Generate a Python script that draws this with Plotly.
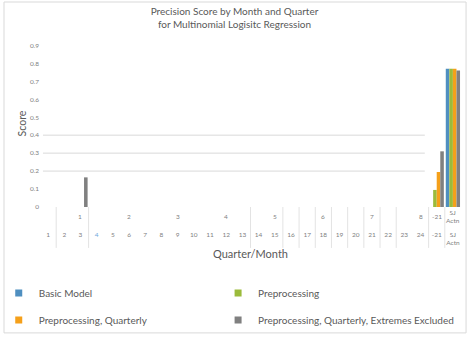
import plotly.graph_objects as go

# ---- data ----
month_labels = [str(i) for i in range(1, 25)] + ["-21", "SJ<br>Actn"]
quarter_labels = ["1", "2", "3", "4", "5", "6", "7", "8", "-21", "SJ<br>Actn"]
quarter_label_pos = [2, 5, 8, 11, 14, 17, 20, 23, 24, 25]

series_names = ["Basic Model", "Preprocessing", "Preprocessing, Quarterly",
                "Preprocessing, Quarterly, Extremes Excluded"]
basic_model = [None] * 24 + [None, 0.77]
preprocessing = [None] * 24 + [0.095, 0.77]
prep_quarterly = [None] * 24 + [0.195, 0.77]
prep_q_extremes = [None, None, 0.165] + [None] * 21 + [0.31, 0.76]
series_values = [basic_model, preprocessing, prep_quarterly, prep_q_extremes]
colors = ["#4F8FC0", "#9BBB3B", "#F5A01A", "#808080"]

y_ticks = [0, 0.1, 0.2, 0.3, 0.4, 0.5, 0.6, 0.7, 0.8, 0.9]
grid_levels = [0.2, 0.3, 0.4]
separators = [0.5, 2.5, 12.5, 14.5, 15.5, 16.5, 17.5, 18.5, 19.5, 20.5, 21.5, 23.5, 24.5]

xs = list(range(len(month_labels)))
ticktext = [("<span style='color:#6FA8DC'>%s</span>" % m) if m == "4" else m for m in month_labels]

FONT = "Lato, Open Sans, Liberation Sans, sans-serif"

fig = go.Figure()
for name, vals, col in zip(series_names, series_values, colors):
    fig.add_trace(go.Bar(x=xs, y=vals, name=name, marker_color=col,
                         marker_line_width=0, showlegend=False))

# legend proxies (small square markers), one legend box per entry (2x2 grid)
legend_ids = ["legend", "legend2", "legend3", "legend4"]
for name, col, lid in zip(series_names, colors, legend_ids):
    fig.add_trace(go.Scatter(x=[None], y=[None], mode="markers", name=name,
                             marker=dict(symbol="square", size=7, color=col),
                             legend=lid))

shapes = []
for g in grid_levels:
    shapes.append(dict(type="line", xref="paper", yref="y", x0=0.007, x1=0.914, y0=g, y1=g,
                       line=dict(color="#D9D9D9", width=1), layer="below"))
for s in separators:
    shapes.append(dict(type="line", xref="x", yref="paper", x0=s, x1=s, y0=0, y1=-0.245,
                       line=dict(color="#E3E3E3", width=1)))
# chart border
shapes.append(dict(type="rect", xref="paper", yref="paper", x0=-0.0855, x1=1.012,
                   y0=-0.754, y1=1.2275, line=dict(color="#D9D9D9", width=1)))

annotations = []
for lab, p in zip(quarter_labels, quarter_label_pos):
    annotations.append(dict(x=p, y=-0.054, xref="x", yref="paper", text=lab, showarrow=False,
                            font=dict(size=6.5, color="#7F7F7F"), yanchor="middle"))
annotations.append(dict(x=0.499, y=-0.281, xref="paper", yref="paper", text="Quarter/Month",
                        showarrow=False, font=dict(size=11, color="#595959"), yanchor="middle"))
annotations.append(dict(x=-0.043, y=0.5, xref="paper", yref="paper", text="Score",
                        textangle=-90, showarrow=False, font=dict(size=10.5, color="#595959"),
                        xanchor="center", yanchor="middle"))

legend_common = dict(orientation="h", xanchor="left", yanchor="middle",
                     font=dict(size=10, color="#595959"),
                     bgcolor="rgba(0,0,0,0)", itemwidth=30)
leg_x = [-0.098, 0.423, -0.098, 0.423]
leg_y = [-0.515, -0.515, -0.677, -0.677]

fig.update_layout(
    width=469, height=337,
    margin=dict(l=40, r=8, t=40, b=130, autoexpand=False),
    paper_bgcolor="white", plot_bgcolor="white",
    font=dict(family=FONT, color="#7F7F7F"),
    title=dict(text="Precision Score by Month and Quarter<br>for Multinomial Logisitc Regression",
               x=0.5, xanchor="center", y=0.955, yanchor="top",
               font=dict(size=10, color="#595959")),
    barmode="group", bargap=0.12, bargroupgap=0,
    xaxis=dict(range=[-0.5, 25.5], tickmode="array", tickvals=xs, ticktext=ticktext,
               ticks="", ticklabelstandoff=22, tickangle=0, showgrid=False, zeroline=False,
               showline=False, tickfont=dict(size=6.5, color="#7F7F7F")),
    yaxis=dict(range=[0, 0.93], tickmode="array", tickvals=y_ticks,
               ticktext=[("%g" % v) for v in y_ticks], showgrid=False, zeroline=False,
               showline=False, tickfont=dict(size=6.5, color="#7F7F7F")),
    shapes=shapes, annotations=annotations,
)
for lid, lx, ly in zip(legend_ids, leg_x, leg_y):
    fig.update_layout({lid: dict(x=lx, y=ly, **legend_common)})

fig.write_html("out.html")
